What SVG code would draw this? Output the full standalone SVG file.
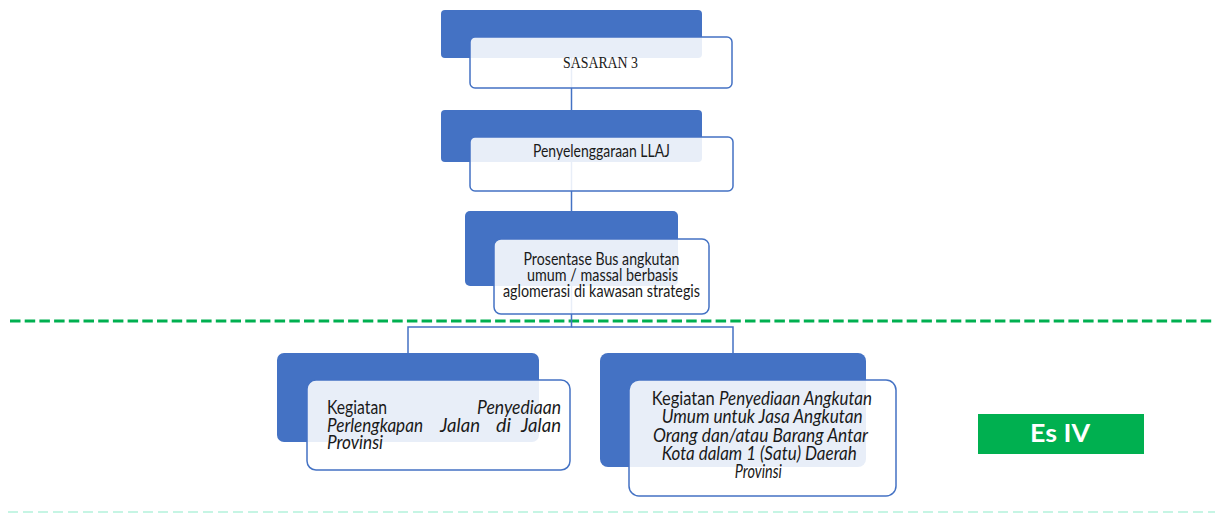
<svg xmlns="http://www.w3.org/2000/svg" width="1215" height="513" viewBox="0 0 1215 513">
<style>
.back{fill:#4472c4;}
.front{fill:#ffffff;fill-opacity:0.88;stroke:#4472c4;stroke-width:1.5;}
.conn{stroke:#4472c4;stroke-width:1.5;fill:none;}
.t{font-family:Lato,"Open Sans","Liberation Sans",sans-serif;fill:#1a1a1a;}
.m{text-anchor:middle;}
.s{font-size:16.5px;}
.b{font-size:18.5px;}
.i{font-style:italic;}
</style>
<rect width="1215" height="513" fill="#ffffff"/>
<line x1="10" y1="321" x2="1215" y2="321" stroke="#00b050" stroke-width="3" stroke-dasharray="10.5 4.2"/>
<line x1="8" y1="512" x2="1215" y2="512" stroke="#b4f2dc" stroke-width="1.5" stroke-dasharray="10 5"/>
<g id="connectors">
<line class="conn" x1="571.5" y1="58" x2="571.5" y2="110"/>
<line class="conn" x1="571.5" y1="162" x2="571.5" y2="211"/>
<polyline class="conn" points="571.5,286 571.5,327 408,327 408,353"/>
<polyline class="conn" points="571.5,327 733,327 733,353"/>
</g>
<g id="node-sasaran">
<rect class="back" x="441" y="10" width="261" height="48" rx="4"/>
<rect class="front" x="470" y="37" width="262" height="51" rx="5"/>
<text x="600.5" y="68" text-anchor="middle" font-family="'Liberation Serif',serif" font-size="17.5" fill="#1a1a1a" textLength="75" lengthAdjust="spacingAndGlyphs">SASARAN 3</text>
</g>
<g id="node-llaj">
<rect class="back" x="441" y="110" width="261" height="52" rx="4"/>
<rect class="front" x="470" y="137" width="263" height="54" rx="5"/>
<text class="t m s" x="601.5" y="157" textLength="137" lengthAdjust="spacingAndGlyphs">Penyelenggaraan LLAJ</text>
</g>
<g id="node-bus">
<rect class="back" x="465" y="211" width="213" height="75" rx="5"/>
<rect class="front" x="494" y="239" width="215" height="75" rx="7"/>
<text class="t m s" x="601.5" y="265" textLength="156" lengthAdjust="spacingAndGlyphs">Prosentase Bus angkutan</text>
<text class="t m s" x="602.5" y="281" textLength="151" lengthAdjust="spacingAndGlyphs">umum / massal berbasis</text>
<text class="t m s" x="601.5" y="297" textLength="197" lengthAdjust="spacingAndGlyphs">aglomerasi di kawasan strategis</text>
</g>
<g id="node-perlengkapan">
<rect class="back" x="277" y="353" width="262" height="89" rx="7"/>
<rect class="front" x="307" y="380" width="263" height="90" rx="9"/>
<text class="t b" x="327" y="414" textLength="60" lengthAdjust="spacingAndGlyphs">Kegiatan</text>
<text class="t b i" x="477" y="414" textLength="84" lengthAdjust="spacingAndGlyphs">Penyediaan</text>
<text class="t b i" x="327" y="431.5" textLength="96" lengthAdjust="spacingAndGlyphs">Perlengkapan</text>
<text class="t b i" x="440" y="431.5" textLength="40" lengthAdjust="spacingAndGlyphs">Jalan</text>
<text class="t b i" x="496" y="431.5" textLength="15" lengthAdjust="spacingAndGlyphs">di</text>
<text class="t b i" x="521" y="431.5" textLength="40" lengthAdjust="spacingAndGlyphs">Jalan</text>
<text class="t b i" x="327" y="449" textLength="56" lengthAdjust="spacingAndGlyphs">Provinsi</text>
</g>
<g id="node-angkutan">
<rect class="back" x="600" y="353" width="266" height="114" rx="8"/>
<rect class="front" x="629" y="380" width="267" height="116" rx="10"/>
<text class="t b" x="651.7" y="405" textLength="63" lengthAdjust="spacingAndGlyphs">Kegiatan</text>
<text class="t b i" x="719" y="405" textLength="153" lengthAdjust="spacingAndGlyphs">Penyediaan Angkutan</text>
<text class="t b i m" x="762.2" y="423.3" textLength="201" lengthAdjust="spacingAndGlyphs">Umum untuk Jasa Angkutan</text>
<text class="t b i m" x="760.5" y="441.7" textLength="215" lengthAdjust="spacingAndGlyphs">Orang dan/atau Barang Antar</text>
<text class="t b i m" x="759.2" y="460" textLength="195" lengthAdjust="spacingAndGlyphs">Kota dalam 1 (Satu) Daerah</text>
<text class="t b i m" x="758.3" y="477.5" textLength="47" lengthAdjust="spacingAndGlyphs">Provinsi</text>
</g>
<g id="es-iv">
<rect x="978" y="414" width="166" height="40" fill="#00b050"/>
<text x="1060" y="442" text-anchor="middle" font-family="Lato,'Open Sans',sans-serif" font-weight="bold" font-size="24" fill="#ffffff" textLength="60" lengthAdjust="spacingAndGlyphs">Es IV</text>
</g>
</svg>
